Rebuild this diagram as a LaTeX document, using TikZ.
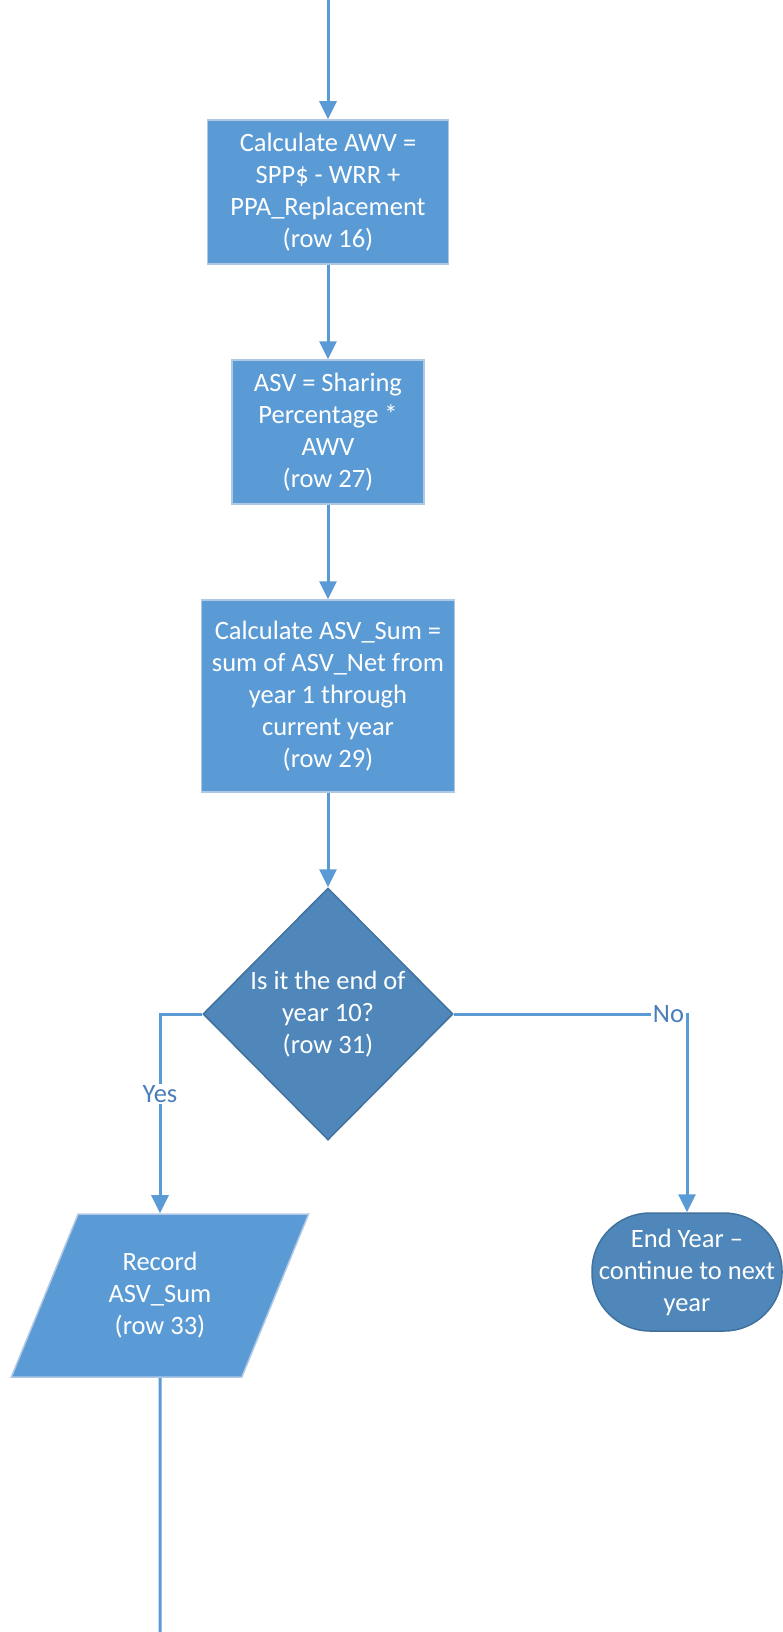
\documentclass[tikz,border=0pt]{standalone}
\usepackage{fontspec}
\setmainfont{Carlito}
\usetikzlibrary{shapes.geometric,arrows.meta}
\definecolor{flowblue}{HTML}{5B9BD5}
\definecolor{flowdark}{HTML}{4F87BA}
\definecolor{flowedge}{HTML}{41719C}
\definecolor{flowlight}{HTML}{B0C8E4}
\definecolor{flowtext}{HTML}{4A7EBB}

\begin{document}
\begin{tikzpicture}[x=1pt,y=-1pt,
   every node/.style={text=white,align=center,inner sep=0pt,
      font=\fontsize{26.5}{32}\selectfont},
   process/.style={rectangle,draw=flowlight,line width=1.5pt,fill=flowblue},
   decision/.style={diamond,draw=flowedge,line width=1.5pt,fill=flowdark},
   inout/.style={trapezium,trapezium left angle=64,trapezium right angle=116,
      trapezium stretches=true,draw=flowlight,line width=1.5pt,fill=flowblue},
   terminal/.style={rectangle,rounded corners=58pt,draw=flowedge,line width=1.5pt,fill=flowdark},
   flowline/.style={draw=flowblue,line width=3pt},
   flow/.style={flowline,-{Triangle[width=17pt,length=18pt]}},
   branch/.style={text=flowtext,fill=white,inner sep=1.5pt}]
\useasboundingbox (0,0) rectangle (782,1632);
\coordinate (start) at (328,0);
\coordinate (finish) at (160,1632);
\node[process,minimum width=241,minimum height=144] (awv) at (328,192)
   {Calculate AWV =\\SPP\$ - WRR +\\PPA\_Replacement\\(row 16)};
\node[process,minimum width=192,minimum height=144] (asv) at (328,432)
   {ASV = Sharing\\Percentage *\\AWV\\(row 27)};
\node[process,minimum width=253,minimum height=192] (asvsum) at (328,696)
   {Calculate ASV\_Sum =\\sum of ASV\_Net from\\year 1 through\\current year\\(row 29)};
\node[decision,minimum width=250,minimum height=252] (endten) at (328,1014)
   {Is it the end of\\year 10?\\(row 31)};
\node[inout,minimum width=298,minimum height=163] (record) at (160,1295.5)
   {Record\\ASV\_Sum\\(row 33)};
\node[terminal,minimum width=190,minimum height=118] (endyear) at (687,1272)
   {End Year --\\continue to next\\year};
\draw[flow] (start) -- (awv.north);
\draw[flow] (awv.south) -- (asv.north);
\draw[flow] (asv.south) -- (asvsum.north);
\draw[flow] (asvsum.south) -- (endten.north);
\draw[flow] (endten.west) -| node[branch,pos=0.7] {Yes} (record.north);
\draw[flow] (endten.east) -| node[branch,pos=0.5,anchor=east] {No} (endyear.north);
\draw[flowline] (record.south) -- (finish);
\end{tikzpicture}
\end{document}
